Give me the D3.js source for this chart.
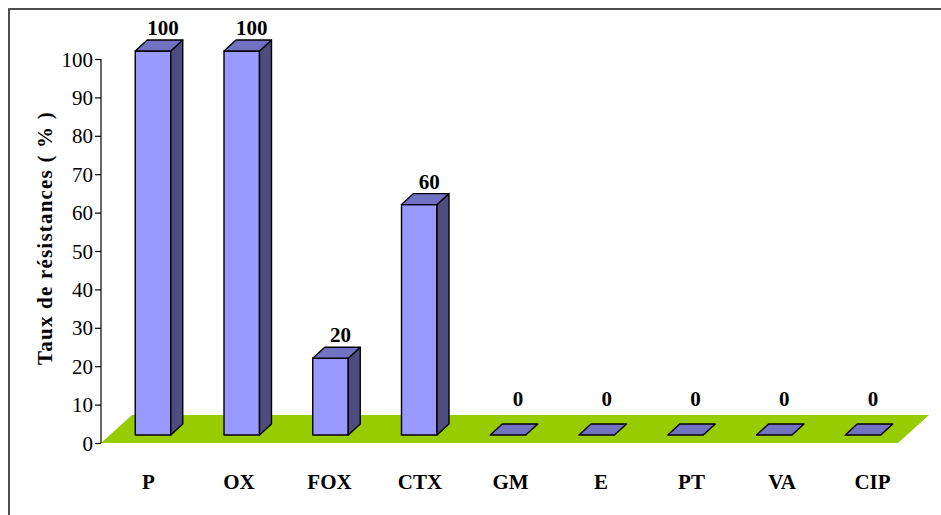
<!DOCTYPE html>
<html>
<head>
<meta charset="utf-8">
<script src="https://cdn.jsdelivr.net/npm/d3@7/dist/d3.min.js"></script>
<style>
  html, body { margin: 0; padding: 0; background: #fff; }
  svg { display: block; }
  svg text { font-family: "Liberation Serif", "Times New Roman", serif; fill: #000; }
</style>
</head>
<body>
<svg id="chart" width="941" height="515"></svg>
<script>
// Antibiotic resistance rates (%)
const categories = ["P", "OX", "FOX", "CTX", "GM", "E", "PT", "VA", "CIP"];
const values = [100, 100, 20, 60, 0, 0, 0, 0, 0];
const yTicks = [0, 10, 20, 30, 40, 50, 60, 70, 80, 90, 100];
const yTitle = "Taux de résistances ( % )";

const svg = d3.select("#chart");
const serif = "Liberation Serif, Times New Roman, serif";

// layout
const axisX = 101;
const floorFront = 443, floorBack = 415, floorDx = 31;
const floorRight = 898;
const barBase = 435;          // front bottom edge of the columns
const barW = 35.5;
const depthX = 12, depthY = 11;

const colors = { front: "#9999FF", top: "#7272C2", side: "#4C4C7E", floor: "#99CC00" };

const y = d3.scaleLinear().domain([0, 100]).range([443, 59]);
const x = d3.scalePoint().domain(categories).range([153, 863]);
const xLab = d3.scalePoint().domain(categories).range([148, 872]);

// outer frame
svg.append("rect")
  .attr("x", 9).attr("y", 9).attr("width", 1000).attr("height", 1000)
  .attr("fill", "none").attr("stroke", "#222").attr("stroke-width", 1.6);

// floor
svg.append("polygon")
  .attr("points", [
    [axisX, floorFront], [floorRight, floorFront],
    [floorRight + floorDx, floorBack], [axisX + floorDx, floorBack]
  ].map(p => p.join(",")).join(" "))
  .attr("fill", colors.floor);

// value axis
const yAxis = d3.axisLeft(y).tickValues(yTicks).tickSize(6).tickPadding(2);
const gy = svg.append("g").attr("transform", `translate(${axisX},0)`).call(yAxis)
  .attr("font-family", null).attr("font-size", null);
gy.select(".domain").attr("stroke", "#000").attr("stroke-width", 1.2).attr("d", `M0,${y(100)}V${y(0)}`);
gy.selectAll(".tick line").attr("stroke", "#000").attr("stroke-width", 1.2);
gy.selectAll(".tick text")
  .style("font-family", serif).style("font-size", "21px").attr("dy", "0.34em");

// axis title
svg.append("text")
  .attr("transform", `translate(52,${238}) rotate(-90)`)
  .attr("text-anchor", "middle")
  .style("font-family", serif).style("font-weight", "bold").style("font-size", "21px")
  .style("letter-spacing", "1.2px")
  .text(yTitle);

// columns
const data = categories.map((c, i) => ({ cat: c, v: values[i] }));
const pts = a => a.map(p => p.join(",")).join(" ");
const bars = svg.append("g").selectAll("g").data(data).join("g");

bars.each(function (d) {
  const g = d3.select(this);
  const cx = x(d.cat);
  const x0 = cx - barW / 2, x1 = cx + barW / 2;
  const yt = d.v > 0 ? y(d.v) - (y(0) - barBase) : barBase;
  const st = { stroke: "#000", "stroke-width": 1.4, "stroke-linejoin": "round" };
  const apply = sel => { Object.entries(st).forEach(([k, v]) => sel.attr(k, v)); return sel; };

  if (d.v > 0) {
    apply(g.append("rect")
      .attr("x", x0).attr("y", yt).attr("width", barW).attr("height", barBase - yt)
      .attr("fill", colors.front));
    apply(g.append("polygon")
      .attr("points", pts([[x1, yt], [x1 + depthX, yt - depthY], [x1 + depthX, barBase - depthY], [x1, barBase]]))
      .attr("fill", colors.side));
  }
  apply(g.append("polygon")
    .attr("points", pts([[x0, yt], [x0 + depthX, yt - depthY], [x1 + depthX, yt - depthY], [x1, yt]]))
    .attr("fill", colors.top));
});

// value labels, kept clear of the floor
bars.append("text")
  .attr("x", d => x(d.cat) + 10)
  .attr("y", d => {
    const yt = d.v > 0 ? y(d.v) - (y(0) - barBase) : barBase;
    return Math.min(yt - depthY - 5, floorBack - 9);
  })
  .attr("text-anchor", "middle")
  .style("font-family", serif).style("font-weight", "bold").style("font-size", "21px")
  .text(d => d.v);

// category labels
const xAxis = d3.axisBottom(xLab).tickSize(0).tickPadding(0);
const gx = svg.append("g").attr("transform", "translate(0,489)").call(xAxis)
  .attr("font-family", null).attr("font-size", null);
gx.select(".domain").remove();
gx.selectAll(".tick text")
  .attr("dy", 0).attr("y", 0)
  .style("font-family", serif).style("font-weight", "bold").style("font-size", "21px");
</script>
</body>
</html>
